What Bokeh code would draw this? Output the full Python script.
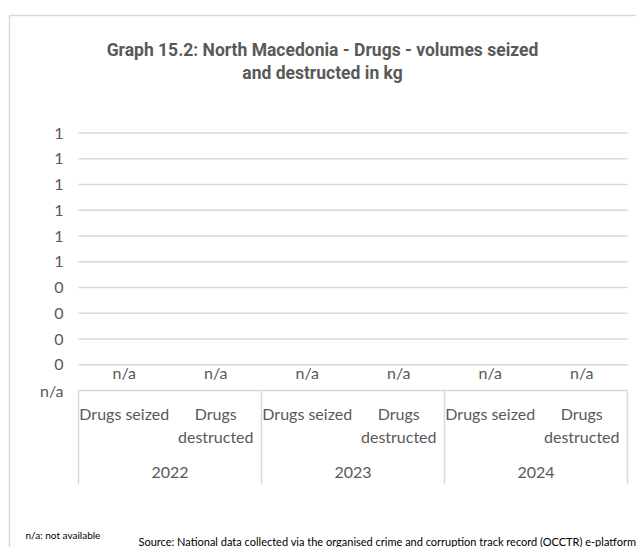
from bokeh.plotting import figure
from bokeh.models import Range1d
from bokeh.core.properties import value
from bokeh.embed import file_html
from bokeh.resources import INLINE

# ---------------- data ----------------
title_lines = ["Graph 15.2: North Macedonia - Drugs - volumes seized", "and destructed in kg"]
years = ["2022", "2023", "2024"]
measures = ["Drugs seized", "Drugs destructed"]
seized_kg = [None, None, None]        # n/a for 2022, 2023, 2024
destructed_kg = [None, None, None]    # n/a for 2022, 2023, 2024
y_ticks = [-0.1, 0.0, 0.1, 0.2, 0.3, 0.4, 0.5, 0.6, 0.7, 0.8, 0.9]
y_tick_labels = ["n/a", "0", "0", "0", "0", "1", "1", "1", "1", "1", "1"]
note_text = "n/a: not available"
source_text = "Source: National data collected via the organised crime and corruption track record (OCCTR) e-platform"

# ---------------- layout / style ----------------
TXT = "#595959"
GRID = "#d9d9d9"
FONT = "Lato"
W, H = 636, 547
n_cat = len(years) * len(measures)
PLOT_L, PLOT_R = 78, 627                 # pixel extent of the category area
PX_X = (PLOT_R - PLOT_L) / n_cat         # pixels per category
AXIS_PY = 390                            # pixel row of the lowest tick (-0.1)
PX_Y = 257.5                             # pixels per value unit


def X(px):
    return (px - PLOT_L) / PX_X


def Y(py):
    return y_ticks[0] - (py - AXIS_PY) / PX_Y


p = figure(width=W, height=H, output_backend="svg", toolbar_location=None,
           x_range=Range1d(X(0), X(W)), y_range=Range1d(Y(H), Y(0)),
           x_axis_location=None, y_axis_location=None, min_border=0)
p.outline_line_color = None
p.grid.visible = False
p.background_fill_color = "white"
p.border_fill_color = "white"

# outer chart border (left and top edges)
p.line(x=[X(9), X(9), X(W + 10)], y=[Y(H + 10), Y(15), Y(15)], line_color=GRID, line_width=1.5)

# horizontal grid lines (lowest one is the top of the category box)
p.segment(x0=[0] * len(y_ticks), x1=[n_cat] * len(y_ticks), y0=y_ticks, y1=y_ticks,
          line_color=GRID, line_width=1.5)

# y tick labels
p.text(x=[X(63)] * len(y_ticks), y=y_ticks, text=y_tick_labels, text_align="right",
       text_baseline="middle", text_font=value(FONT), text_font_size="16px", text_color=TXT)

# categories and value labels
xs, line1, line2, val_labels = [], [], [], []
for gi, yr in enumerate(years):
    vals = [seized_kg[gi], destructed_kg[gi]]
    for mi, m in enumerate(measures):
        xs.append(gi * len(measures) + mi + 0.5)
        if m == "Drugs destructed":
            a, b = "Drugs", "destructed"
        else:
            a, b = m, ""
        line1.append(a)
        line2.append(b)
        v = vals[mi]
        val_labels.append("n/a" if v is None else f"{v:g}")

p.text(x=xs, y=[Y(362)] * len(xs), text=val_labels, text_align="center", text_baseline="top",
       text_font=value(FONT), text_font_size="16px", text_color=TXT)
p.text(x=xs, y=[Y(413)] * len(xs), text=line1, text_align="center", text_baseline="middle",
       text_font=value(FONT), text_font_size="16px", text_color=TXT)
p.text(x=xs, y=[Y(436)] * len(xs), text=line2, text_align="center", text_baseline="middle",
       text_font=value(FONT), text_font_size="16px", text_color=TXT)

yx = [(gi + 0.5) * len(measures) for gi in range(len(years))]
p.text(x=yx, y=[Y(472)] * len(yx), text=years, text_align="center", text_baseline="middle",
       text_font=value(FONT), text_font_size="16px", text_color=TXT)

bx = [gi * len(measures) for gi in range(len(years) + 1)]
p.segment(x0=bx, x1=bx, y0=[y_ticks[0]] * len(bx), y1=[Y(484)] * len(bx),
          line_color=GRID, line_width=1.5)

# title
p.text(x=[X(322)] * len(title_lines), y=[Y(49), Y(72)], text=title_lines, text_align="center",
       text_baseline="middle", text_font=value("Roboto"), text_font_style="bold",
       text_font_size="17.5px", text_color=TXT)

# footer notes
p.text(x=[X(25)], y=[Y(534)], text=[note_text], text_baseline="middle",
       text_font=value(FONT), text_font_size="10px", text_color="black")
p.text(x=[X(138)], y=[Y(541)], text=[source_text], text_baseline="middle",
       text_font=value(FONT), text_font_size="11px", text_color="black")

open("out.html", "w").write(file_html(p, INLINE))
